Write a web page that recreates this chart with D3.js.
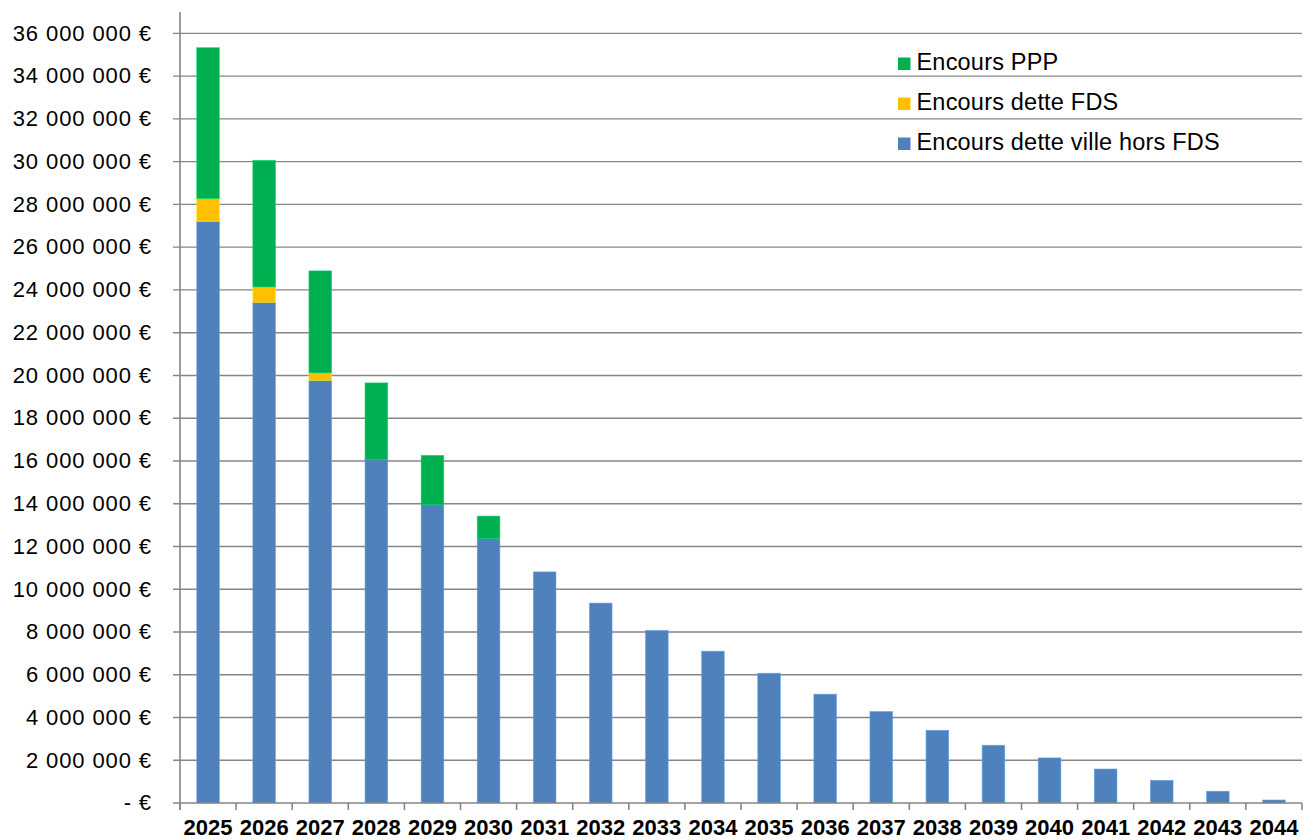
<!DOCTYPE html>
<html lang="fr">
<head>
<meta charset="utf-8">
<script src="https://cdn.jsdelivr.net/npm/d3@7"></script>
<style>
  html, body { margin: 0; padding: 0; background: #ffffff; }
  svg { display: block; }
  text { font-family: "Liberation Sans", Arial, sans-serif; fill: #000; }
</style>
</head>
<body>
<svg id="chart" width="1303" height="840"></svg>
<script>
// Encours de dette par année (en euros)
const years = ["2025","2026","2027","2028","2029","2030","2031","2032","2033","2034",
               "2035","2036","2037","2038","2039","2040","2041","2042","2043","2044"];
const detteVille = [27210000, 23420000, 19770000, 16060000, 13950000, 12370000, 10810000, 9350000, 8070000, 7100000,
                    6070000, 5090000, 4280000, 3400000, 2700000, 2110000, 1590000, 1060000, 550000, 140000];
const detteFDS = [1060000, 720000, 350000, 0, 0, 0, 0, 0, 0, 0,
                  0, 0, 0, 0, 0, 0, 0, 0, 0, 0];
const encoursPPP = [7060000, 5920000, 4770000, 3590000, 2310000, 1050000, 0, 0, 0, 0,
                    0, 0, 0, 0, 0, 0, 0, 0, 0, 0];
const seriesNames = ["Encours dette ville hors FDS", "Encours dette FDS", "Encours PPP"];
const seriesColors = ["#4F81BD", "#FFC000", "#00B050"];
const yTicks = d3.range(0, 36000001, 2000000);

const svg = d3.select("#chart");
const plotLeft = 180, plotRight = 1302, plotBottom = 803, plotTop = 12;
const gridColor = "#868686";

const x = d3.scaleBand().domain(years).range([plotLeft, plotRight])
  .paddingInner(0.597).paddingOuter(0.2985);
const y = d3.scaleLinear().domain([0, 37000000]).range([plotBottom, plotTop]);

const fmt = v => v === 0 ? "- €" : d3.format(",")(v).replace(/,/g, " ") + " €";

// Horizontal gridlines with their tick marks
svg.append("g").selectAll("line").data(yTicks.filter(d => d > 0)).join("line")
  .attr("x1", plotLeft - 7).attr("x2", plotRight)
  .attr("y1", d => y(d)).attr("y2", d => y(d))
  .attr("stroke", gridColor).attr("stroke-width", 1.4);

// Stacked bars
const rows = years.map((yr, i) => ({ year: yr, s0: detteVille[i], s1: detteFDS[i], s2: encoursPPP[i] }));
const stacked = d3.stack().keys(["s0", "s1", "s2"])(rows);
const barG = svg.append("g");
stacked.forEach((layer, k) => {
  barG.append("g").selectAll("rect").data(layer.filter(d => d[1] - d[0] > 0)).join("rect")
    .attr("x", d => x(d.data.year))
    .attr("width", x.bandwidth())
    .attr("y", d => y(d[1]))
    .attr("height", d => y(d[0]) - y(d[1]))
    .attr("fill", seriesColors[k])
    .attr("stroke", d3.color(seriesColors[k]).brighter(0.6))
    .attr("stroke-width", 0.8)
    .attr("stroke-opacity", 0.7);
});

// Y axis line, baseline and labels
svg.append("line").attr("x1", plotLeft).attr("x2", plotLeft).attr("y1", plotTop).attr("y2", plotBottom + 7)
  .attr("stroke", gridColor).attr("stroke-width", 1.6);
svg.append("line").attr("x1", plotLeft - 7).attr("x2", plotRight).attr("y1", plotBottom).attr("y2", plotBottom)
  .attr("stroke", gridColor).attr("stroke-width", 1.6);
svg.append("g").selectAll("text").data(yTicks).join("text")
  .attr("x", 152).attr("y", d => y(d) + 7.3)
  .attr("text-anchor", "end")
  .style("font-size", "22px").style("letter-spacing", "0.9px")
  .text(fmt);

// X axis ticks at category boundaries
const step = x.step();
const bounds = d3.range(years.length + 1).map(i => plotLeft + i * step);
svg.append("g").selectAll("line").data(bounds).join("line")
  .attr("x1", d => d).attr("x2", d => d)
  .attr("y1", plotBottom).attr("y2", plotBottom + 7)
  .attr("stroke", gridColor).attr("stroke-width", 1.6);
svg.append("g").selectAll("text").data(years).join("text")
  .attr("x", d => x(d) + x.bandwidth() / 2).attr("y", 835.3)
  .attr("text-anchor", "middle")
  .style("font-size", "22px").style("font-weight", "bold")
  .text(d => d);

// Legend
const legendOrder = [2, 1, 0];
const lg = svg.append("g");
legendOrder.forEach((k, i) => {
  const by = 70 + i * 40;
  lg.append("rect").attr("x", 898).attr("y", by - 12.5).attr("width", 12.5).attr("height", 12.5)
    .attr("fill", seriesColors[k]);
  lg.append("text").attr("x", 916.5).attr("y", by)
    .style("font-size", "23.5px").style("letter-spacing", "0.2px").text(seriesNames[k]);
});
</script>
</body>
</html>
